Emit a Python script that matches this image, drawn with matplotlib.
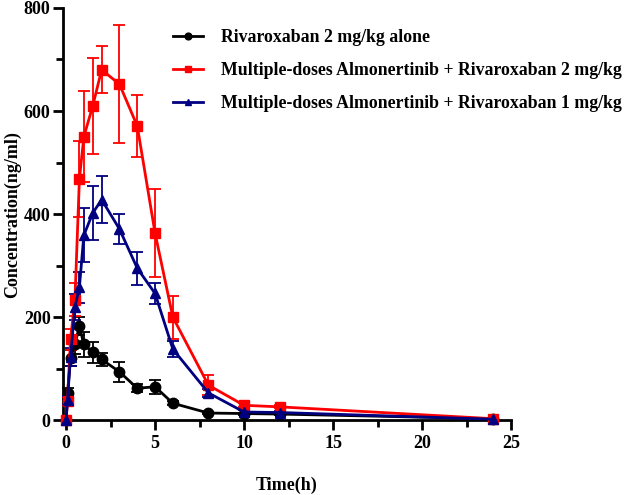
import matplotlib.pyplot as plt
import numpy as np
from matplotlib.ticker import MultipleLocator

time_h = [0, 0.083, 0.25, 0.5, 0.75, 1, 1.5, 2, 3, 4, 5, 6, 8, 10, 12, 24]

riva2_mean = [0, 52, 121, 147, 183, 147, 132, 118, 94, 62, 65, 33, 14, 13, 12, 3]
riva2_sd = [0, 10, 15, 18, 17, 25, 20, 13, 19, 8, 14, 4, 2, 2, 2, 1]

almo_riva2_mean = [0, 38, 157, 234, 468, 550, 610, 680, 652, 571, 363, 200, 68, 29, 26, 3]
almo_riva2_sd = [0, 8, 20, 32, 73, 88, 93, 46, 115, 61, 85, 42, 19, 4, 3, 1]

almo_riva1_mean = [0, 40, 123, 220, 258, 359, 402, 428, 371, 295, 246, 138, 53, 16, 15, 2]
almo_riva1_sd = [0, 8, 18, 25, 30, 52, 52, 46, 30, 32, 20, 15, 8, 3, 2, 1]

labels = [
    "Rivaroxaban 2 mg/kg alone",
    "Multiple-doses Almonertinib + Rivaroxaban 2 mg/kg",
    "Multiple-doses Almonertinib + Rivaroxaban 1 mg/kg",
]

plt.rcParams["font.family"] = "Liberation Serif"
plt.rcParams["font.weight"] = "bold"

fig = plt.figure(figsize=(6.24, 4.95), dpi=100)
ax = fig.add_axes([0.101, 0.151, 0.718, 0.833])

series = [
    (riva2_mean, riva2_sd, "black", "o", 7.5),
    (almo_riva2_mean, almo_riva2_sd, "#ff0000", "s", 7.5),
    (almo_riva1_mean, almo_riva1_sd, "#000080", "^", 7.5),
]
lines = []
for (m, sd, c, mk, ms), lab in zip(series, labels):
    eb = ax.errorbar(time_h, m, yerr=sd, color=c, marker=mk, markersize=ms,
                     linewidth=2, elinewidth=1.3, capsize=4, capthick=1.3,
                     label=lab, clip_on=False, zorder=3)
    lines.append(eb[0])

ax.set_xlim(-0.17, 25)
ax.set_ylim(0, 800)
ax.xaxis.set_major_locator(MultipleLocator(5))
ax.xaxis.set_minor_locator(MultipleLocator(2.5))
ax.yaxis.set_major_locator(MultipleLocator(200))
ax.yaxis.set_minor_locator(MultipleLocator(100))
ax.spines["top"].set_visible(False)
ax.spines["right"].set_visible(False)
for s in ("left", "bottom"):
    ax.spines[s].set_linewidth(2)
ax.tick_params(which="major", length=7, width=2, labelsize=13)
ax.tick_params(axis="y", pad=2)
ax.tick_params(which="minor", length=5, width=2)

ax.set_xlabel("Time(h)", fontsize=13, fontweight="bold", labelpad=18)
ax.set_ylabel("Concentration(ng/ml)", fontsize=13, fontweight="bold", labelpad=2)

ax.legend(lines, labels, loc="upper left", bbox_to_anchor=(0.21, 0.988),
          frameon=False, fontsize=12.8, handlelength=1.7, labelspacing=0.9,
          handletextpad=1.0, markerscale=0.65)

fig.savefig("out.png", dpi=100)
